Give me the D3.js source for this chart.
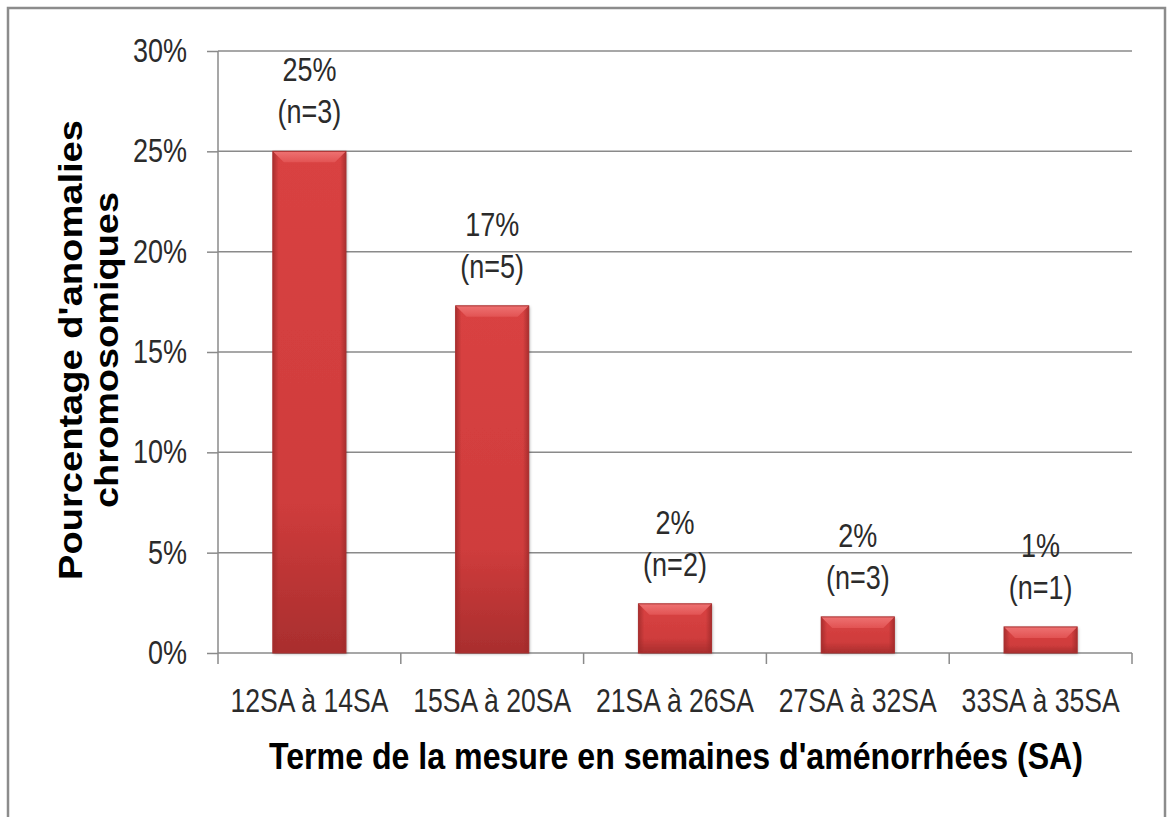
<!DOCTYPE html>
<html>
<head>
<meta charset="utf-8">
<script src="https://cdn.jsdelivr.net/npm/d3@7"></script>
<style>
  body { margin: 0; background: #fff; }
  svg { display: block; }
</style>
</head>
<body>
<div id="chart"></div>
<script>
// data
const categories = ["12SA à 14SA", "15SA à 20SA", "21SA à 26SA", "27SA à 32SA", "33SA à 35SA"];
const values = [25.0, 17.3, 2.45, 1.8, 1.3];          // percent
const valueLabels = ["25%", "17%", "2%", "2%", "1%"];
const counts = [3, 5, 2, 3, 1];
const yTicks = [0, 5, 10, 15, 20, 25, 30];

const width = 1167, height = 817;
const margin = {top: 51, right: 35, bottom: 164, left: 218};
const plotW = width - margin.left - margin.right;
const plotH = height - margin.top - margin.bottom;

const lightFont = "'Liberation Sans', Arial, sans-serif";
const gridColor = "#8a8a8a";
const textColor = "#2b2b2b";
const stretch = 1.2;   // the source picture is a little taller than wide

const svg = d3.select("#chart").append("svg")
  .attr("width", width)
  .attr("height", height);

// gradients for the bevelled bars
const defs = svg.append("defs");
const body = defs.append("linearGradient").attr("id", "barBody")
  .attr("x1", 0).attr("y1", 0).attr("x2", 0).attr("y2", 1);
body.append("stop").attr("offset", "0%").attr("stop-color", "#d94242");
body.append("stop").attr("offset", "70%").attr("stop-color", "#cf3c3c");
body.append("stop").attr("offset", "100%").attr("stop-color", "#a92e2e");

const side = defs.append("linearGradient").attr("id", "barSide")
  .attr("x1", 0).attr("y1", 0).attr("x2", 1).attr("y2", 0);
side.append("stop").attr("offset", "0%").attr("stop-color", "#9e2a2a").attr("stop-opacity", 0.8);
side.append("stop").attr("offset", "8%").attr("stop-color", "#9e2a2a").attr("stop-opacity", 0);
side.append("stop").attr("offset", "92%").attr("stop-color", "#9e2a2a").attr("stop-opacity", 0);
side.append("stop").attr("offset", "100%").attr("stop-color", "#9e2a2a").attr("stop-opacity", 0.8);

const bevel = defs.append("linearGradient").attr("id", "barTop")
  .attr("x1", 0).attr("y1", 0).attr("x2", 0).attr("y2", 1);
bevel.append("stop").attr("offset", "0%").attr("stop-color", "#ee7272");
bevel.append("stop").attr("offset", "100%").attr("stop-color", "#e25353");

const shadow = defs.append("filter").attr("id", "shadow")
  .attr("x", "-20%").attr("y", "-20%").attr("width", "140%").attr("height", "140%");
shadow.append("feDropShadow").attr("dx", 1).attr("dy", 1).attr("stdDeviation", 1.5)
  .attr("flood-color", "#000").attr("flood-opacity", 0.3);

// outer frame (bottom edge runs off the picture)
svg.append("rect")
  .attr("x", 8).attr("y", 8)
  .attr("width", 1157).attr("height", 830)
  .attr("fill", "none")
  .attr("stroke", "#8c8c8c")
  .attr("stroke-width", 2.5);

const g = svg.append("g")
  .attr("transform", `translate(${margin.left},${margin.top})`);

const x = d3.scaleBand()
  .domain(categories)
  .range([0, plotW])
  .padding(0);

const y = d3.scaleLinear()
  .domain([0, 30])
  .range([plotH, 0]);

// plain text helper, a bit stretched vertically like the source
function label(sel, px, py, txt, anchor, len) {
  const t = sel.append("text")
    .attr("transform", `translate(${px},${py}) scale(1,${stretch})`)
    .attr("text-anchor", anchor)
    .attr("fill", textColor)
    .style("font-family", lightFont)
    .style("font-size", "27px")
    .text(txt);
  if (len) t.attr("textLength", len).attr("lengthAdjust", "spacingAndGlyphs");
  return t;
}

// horizontal gridlines
g.append("g")
  .selectAll("line")
  .data(yTicks.filter(d => d > 0))
  .join("line")
  .attr("x1", 0).attr("x2", plotW)
  .attr("y1", d => y(d)).attr("y2", d => y(d))
  .attr("stroke", gridColor)
  .attr("stroke-width", 1.5);

// y axis
const yAxis = g.append("g")
  .call(d3.axisLeft(y).tickValues(yTicks).tickSize(11).tickFormat(""));
yAxis.select(".domain").attr("stroke", gridColor).attr("stroke-width", 1.5)
  .attr("d", `M0,${plotH}V0`);
yAxis.selectAll(".tick line").attr("stroke", gridColor).attr("stroke-width", 1.5);
yTicks.forEach(t => label(g, -31, y(t) + 11, t + "%", "end"));

// x axis with ticks at category boundaries
const xAxisG = g.append("g").attr("transform", `translate(0,${plotH})`);
xAxisG.append("line")
  .attr("x1", 0).attr("x2", plotW)
  .attr("stroke", gridColor).attr("stroke-width", 1.5);
const bounds = categories.map(c => x(c)).concat([plotW]);
xAxisG.selectAll("line.bound")
  .data(bounds)
  .join("line")
  .attr("class", "bound")
  .attr("x1", d => d).attr("x2", d => d)
  .attr("y1", 0).attr("y2", 11)
  .attr("stroke", gridColor).attr("stroke-width", 1.5);
categories.forEach(c => label(xAxisG, x(c) + x.bandwidth() / 2, 59, c, "middle", 158));

// bars
const barW = x.bandwidth() * 0.4;
const bars = g.append("g").selectAll("g.bar")
  .data(categories.map((c, i) => ({c, v: values[i], lab: valueLabels[i], n: counts[i]})))
  .join("g")
  .attr("class", "bar");

bars.append("rect")
  .attr("x", d => x(d.c) + (x.bandwidth() - barW) / 2)
  .attr("y", d => y(d.v))
  .attr("width", barW)
  .attr("height", d => plotH - y(d.v))
  .attr("fill", "url(#barBody)")
  .attr("filter", "url(#shadow)");

bars.append("rect")
  .attr("x", d => x(d.c) + (x.bandwidth() - barW) / 2)
  .attr("y", d => y(d.v))
  .attr("width", barW)
  .attr("height", d => plotH - y(d.v))
  .attr("fill", "url(#barSide)");

// top bevel
bars.append("path")
  .attr("fill", "url(#barTop)")
  .attr("d", d => {
    const x0 = x(d.c) + (x.bandwidth() - barW) / 2, x1 = x0 + barW;
    const t = y(d.v);
    const b = Math.min(11, (plotH - t) * 0.45);
    return `M${x0},${t}L${x1},${t}L${x1 - b},${t + b}L${x0 + b},${t + b}Z`;
  });

// bar outline
bars.append("rect")
  .attr("x", d => x(d.c) + (x.bandwidth() - barW) / 2)
  .attr("y", d => y(d.v))
  .attr("width", barW)
  .attr("height", d => plotH - y(d.v))
  .attr("fill", "none")
  .attr("stroke", "#a83030")
  .attr("stroke-width", 1);

// value labels
bars.each(function(d) {
  const cx = x(d.c) + x.bandwidth() / 2;
  label(d3.select(this), cx, y(d.v) - 70, d.lab, "middle");
  label(d3.select(this), cx, y(d.v) - 28, `(n=${d.n})`, "middle");
});

// axis titles
svg.append("text")
  .attr("transform", "translate(676,769) scale(1,1.26)")
  .attr("text-anchor", "middle")
  .attr("textLength", 814)
  .attr("lengthAdjust", "spacingAndGlyphs")
  .style("font-family", "'Liberation Sans', Arial, sans-serif")
  .style("font-weight", "bold")
  .style("font-size", "30px")
  .attr("fill", "#000")
  .text("Terme de la mesure en semaines d'aménorrhées (SA)");

const yTitle = svg.append("g")
  .attr("transform", "translate(0,350) rotate(-90)");
yTitle.append("text")
  .attr("x", 0).attr("y", 82)
  .attr("text-anchor", "middle")
  .attr("textLength", 460)
  .attr("lengthAdjust", "spacingAndGlyphs")
  .style("font-family", "'Liberation Sans', Arial, sans-serif")
  .style("font-weight", "bold")
  .style("font-size", "33px")
  .attr("fill", "#000")
  .text("Pourcentage d'anomalies");
yTitle.append("text")
  .attr("x", 0).attr("y", 118)
  .attr("text-anchor", "middle")
  .attr("textLength", 316)
  .attr("lengthAdjust", "spacingAndGlyphs")
  .style("font-family", "'Liberation Sans', Arial, sans-serif")
  .style("font-weight", "bold")
  .style("font-size", "33px")
  .attr("fill", "#000")
  .text("chromosomiques");
</script>
</body>
</html>
